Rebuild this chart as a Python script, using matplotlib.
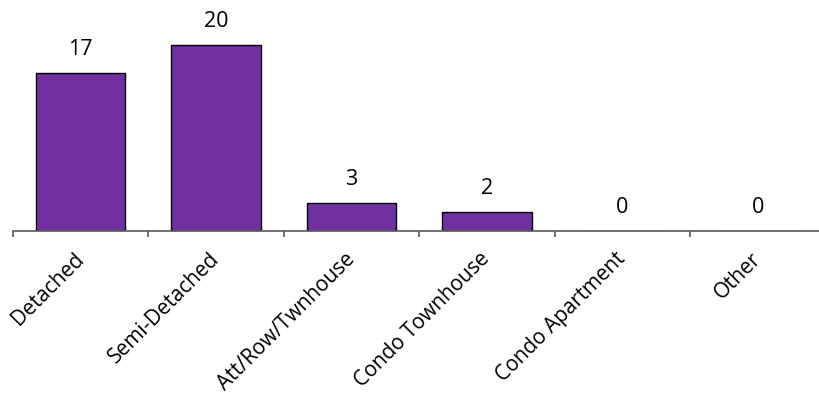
import matplotlib
matplotlib.use("Agg")
import matplotlib.pyplot as plt
import numpy as np

categories = ["Detached", "Semi-Detached", "Att/Row/Twnhouse", "Condo Townhouse", "Condo Apartment", "Other"]
values = [17, 20, 3, 2, 0, 0]

plt.rcParams['font.family'] = ['Open Sans', 'DejaVu Sans']

fig = plt.figure(figsize=(8.19, 4.01), dpi=100)
W, H = 819, 401
x0, x1 = 13, 825.5
ybase = 231
ax = fig.add_axes([x0 / W, (H - ybase) / H, (x1 - x0) / W, ybase / H])

x = np.arange(len(categories))
ax.bar(x, values, width=0.66, color='#7030A0', edgecolor='black', linewidth=1.0, zorder=2)

ax.set_xlim(-0.5, len(categories) - 0.5)
ax.set_ylim(0, 24.8)

for xi, v in zip(x, values):
    ax.annotate(str(v), (xi, v), xytext=(0, 13), textcoords='offset points',
                ha='center', va='baseline', fontsize=15.5, color='black')

for s in ['top', 'right', 'left']:
    ax.spines[s].set_visible(False)
ax.spines['bottom'].set_color('#595959')
ax.spines['bottom'].set_linewidth(1.2)
ax.set_yticks([])

ax.set_xticks(x)
ax.set_xticklabels(categories, rotation=45, ha='right', va='center', rotation_mode='anchor', fontsize=15)
ax.tick_params(axis='x', which='major', length=0, pad=18)
ax.set_xticks(np.arange(-0.5, len(categories) - 0.5, 1.0), minor=True)
ax.tick_params(axis='x', which='minor', length=4.5, width=1.2, color='#595959', direction='out')

fig.savefig('out.png', dpi=100)
